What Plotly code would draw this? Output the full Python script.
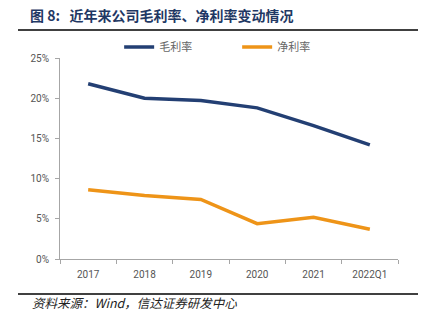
import plotly.graph_objects as go

years = ["2017", "2018", "2019", "2020", "2021", "2022Q1"]
gross_margin = [21.8, 20.0, 19.7, 18.8, 16.6, 14.2]
net_margin = [8.6, 7.9, 7.4, 4.4, 5.2, 3.7]
y_ticks = [0, 5, 10, 15, 20, 25]
y_tick_labels = ["0%", "5%", "10%", "15%", "20%", "25%"]

navy = "#233F73"
orange = "#EE9418"
font_cjk = "Noto Sans CJK SC"

fig = go.Figure()
fig.add_trace(go.Scatter(x=years, y=gross_margin, mode="lines", name="毛利率",
                         line=dict(color=navy, width=3.5)))
fig.add_trace(go.Scatter(x=years, y=net_margin, mode="lines", name="净利率",
                         line=dict(color=orange, width=3.5)))

fig.update_layout(
    width=432, height=324,
    margin=dict(l=60, r=34, t=58, b=65),
    paper_bgcolor="white", plot_bgcolor="white",
    font=dict(family=font_cjk, size=10, color="#555555"),
    legend=dict(orientation="h", x=0.175, y=1.055, xanchor="left", yanchor="middle",
                entrywidth=73, font=dict(size=11, color="#666666"),
                itemwidth=30, bgcolor="rgba(0,0,0,0)"),
    xaxis=dict(type="category", range=[-0.5, 5.5], showline=True,
               linecolor="#A6A6A6", linewidth=1,
               ticks="outside", tickson="boundaries", ticklen=4, tickcolor="#A6A6A6",
               ticklabelstandoff=6,
               showgrid=False, tickfont=dict(family="Roboto", size=10, color="#555555")),
    yaxis=dict(range=[0, 25], tickvals=y_ticks, ticktext=y_tick_labels,
               showline=True, linecolor="#A6A6A6", linewidth=1,
               ticks="outside", ticklen=4, tickcolor="#A6A6A6",
               ticklabelstandoff=4,
               showgrid=False, zeroline=False,
               tickfont=dict(family="Roboto", size=10, color="#555555")),
    showlegend=True,
)

# Header and footer rules
fig.add_shape(type="line", xref="paper", yref="paper", x0=-42/338, x1=358/338,
              y0=1 + 28/201, y1=1 + 28/201, line=dict(color="black", width=1.5))
fig.add_shape(type="line", xref="paper", yref="paper", x0=-42/338, x1=358/338,
              y0=-35/201, y1=-35/201, line=dict(color="black", width=1.5))

fig.add_annotation(text="<b>图 8:\u00a0\u00a0\u00a0近年来公司毛利率、净利率变动情况</b>",
                   xref="paper", yref="paper", x=-32/338, y=1 + 43/201,
                   xanchor="left", yanchor="middle", showarrow=False,
                   font=dict(family=font_cjk, size=14, color="#1F3864"))
fig.add_annotation(text="<i>资料来源：Wind，信达证券研发中心</i>",
                   xref="paper", yref="paper", x=-30/338, y=-43/201,
                   xanchor="left", yanchor="middle", showarrow=False,
                   font=dict(family=font_cjk, size=12.5, color="#222222"))

fig.write_html("out.html")
